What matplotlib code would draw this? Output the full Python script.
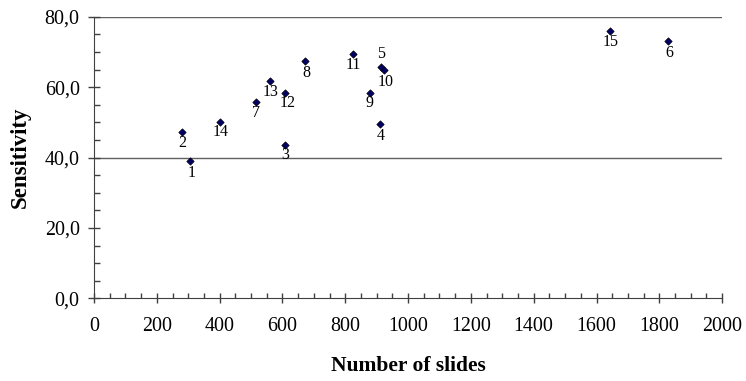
import matplotlib
matplotlib.use("Agg")
import matplotlib.pyplot as plt
from matplotlib.ticker import MultipleLocator, FuncFormatter

# data
ids = ["1", "2", "3", "4", "5", "6", "7", "8", "9", "10", "11", "12", "13", "14", "15"]
slides = [306, 280, 608, 912, 915, 1829, 517, 671, 878, 923, 826, 608, 560, 400, 1642]
sensitivity = [38.9, 47.2, 43.7, 49.4, 65.6, 73.0, 55.9, 67.4, 58.4, 64.9, 69.3, 58.4, 61.8, 50.2, 76.0]

# label offsets in points (dx, dy) relative to each point
offsets = {
    "1": (1.2, -8.6), "2": (0, -8), "3": (0.5, -7.7), "4": (0, -8.4), "5": (0, 10),
    "6": (1, -8.1), "7": (0, -8.3), "8": (1.4, -8.4), "9": (0, -7.6), "10": (1.2, -8.4),
    "11": (0, -7.7), "12": (1.7, -7.6), "13": (0.7, -8.4), "14": (0.7, -7.7), "15": (0.7, -7.9),
}

plt.rcParams["font.family"] = ["Liberation Serif", "DejaVu Serif"]

fig = plt.figure(figsize=(7.46, 3.81), dpi=100)
ax = fig.add_axes([0.126, 0.217, 0.842, 0.739])

ax.scatter(slides, sensitivity, marker="D", s=14, color="#000066",
           edgecolors="black", linewidths=0.5, zorder=3)

for name, xv, yv in zip(ids, slides, sensitivity):
    dx, dy = offsets[name]
    ax.annotate(name, (xv, yv), xytext=(dx, dy), textcoords="offset points",
                ha="center", va="center", fontsize=11.5)

ax.set_xlim(0, 2000)
ax.set_ylim(0, 80)
ax.xaxis.set_major_locator(MultipleLocator(200))
ax.xaxis.set_minor_locator(MultipleLocator(50))
ax.yaxis.set_major_locator(MultipleLocator(20))
ax.yaxis.set_minor_locator(MultipleLocator(5))
ax.yaxis.set_major_formatter(FuncFormatter(lambda v, p: ("%.1f" % v).replace(".", ",")))

for gy in (40, 80):
    ax.axhline(gy, color="#606060", lw=1.0, zorder=1)

for s in ("top", "right"):
    ax.spines[s].set_visible(False)
for s in ("left", "bottom"):
    ax.spines[s].set_color("#404040")

ax.tick_params(axis="x", which="major", direction="inout", length=7.2, width=1,
               color="#404040", labelsize=14.4, pad=10)
ax.tick_params(axis="x", which="minor", direction="in", length=3.6, width=1, color="#404040")
ax.tick_params(axis="y", which="major", direction="inout", length=8.6, width=1,
               color="#404040", labelsize=14.4, pad=6)
ax.tick_params(axis="y", which="minor", direction="in", length=4.3, width=1, color="#404040")

ax.set_xlabel("Number of slides", fontsize=15.5, fontweight="bold", labelpad=14)
ax.set_ylabel("Sensitivity", fontsize=16.5, fontweight="bold", labelpad=10)

fig.savefig("out.png", dpi=100)
